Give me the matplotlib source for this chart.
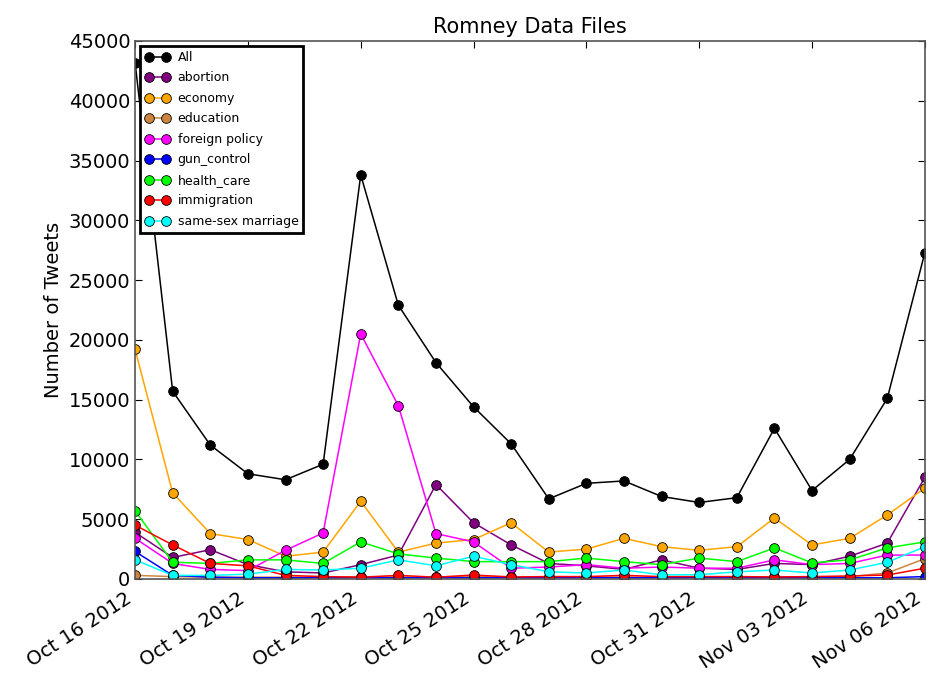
import datetime as dt
import matplotlib
matplotlib.use("Agg")
import matplotlib.pyplot as plt
import matplotlib.dates as mdates

start = dt.date(2012, 10, 16)
dates = [start + dt.timedelta(days=i) for i in range(22)]

all_tweets = [43200, 15700, 11200, 8800, 8300, 9600, 33800, 22900, 18100, 14400, 11300,
              6700, 8000, 8200, 6900, 6400, 6800, 12600, 7400, 10000, 15100, 27300]
abortion = [3900, 1800, 2450, 1200, 600, 500, 1200, 2000, 7900, 4700, 2850,
            1300, 1100, 800, 1600, 900, 800, 1300, 1200, 1900, 3000, 8500]
economy = [19200, 7200, 3800, 3300, 1900, 2250, 6500, 2250, 3000, 3300, 4700,
           2250, 2500, 3400, 2700, 2400, 2700, 5100, 2850, 3400, 5350, 7600]
education = [300, 200, 150, 150, 150, 150, 200, 150, 150, 200, 150,
             150, 150, 150, 150, 150, 150, 200, 150, 200, 500, 1700]
foreign_policy = [3400, 1300, 800, 700, 2400, 3850, 20500, 14500, 3800, 3100, 900,
                  1000, 1200, 900, 1000, 900, 900, 1600, 1200, 1300, 2000, 2000]
gun_control = [2300, 300, 150, 100, 100, 100, 100, 100, 100, 100, 100,
               100, 100, 100, 100, 100, 100, 100, 100, 100, 100, 200]
health_care = [5700, 1400, 1300, 1600, 1600, 1300, 3100, 2100, 1750, 1450, 1450,
               1450, 1750, 1450, 1200, 1750, 1450, 2600, 1350, 1600, 2600, 3100]
immigration = [4500, 2850, 1300, 1100, 300, 200, 150, 300, 150, 330, 170,
               200, 200, 300, 200, 200, 200, 170, 200, 250, 330, 900]
same_sex_marriage = [1600, 300, 300, 400, 800, 750, 900, 1600, 1100, 1900, 1200,
                     600, 500, 750, 350, 350, 600, 750, 500, 750, 1400, 2700]

series = [
    ("All", all_tweets, "black"),
    ("abortion", abortion, "purple"),
    ("economy", economy, "orange"),
    ("education", education, "peru"),
    ("foreign policy", foreign_policy, "magenta"),
    ("gun_control", gun_control, "blue"),
    ("health_care", health_care, "lime"),
    ("immigration", immigration, "red"),
    ("same-sex marriage", same_sex_marriage, "cyan"),
]

fig = plt.figure(figsize=(9.38, 6.73), dpi=100, facecolor="white")
ax = fig.add_axes([0.144, 0.1397, 0.842, 0.7994])

for label, values, color in series:
    ax.plot(dates, values, "-o", color=color, label=label, linewidth=1.1,
            markersize=7, markeredgecolor="black", markeredgewidth=0.6)

ax.set_xlim(dates[0], dates[-1])
ax.set_ylim(0, 45000)
ax.set_yticks(range(0, 45001, 5000))
ax.set_xticks(dates[::3])
ax.xaxis.set_major_formatter(mdates.DateFormatter("%b %d %Y"))

ax.tick_params(direction="in", top=True, right=True, length=5, labelsize=14)
ax.tick_params(axis="x", pad=7)
for lbl in ax.get_xticklabels():
    lbl.set_rotation(33)
    lbl.set_ha("right")

for sp in ax.spines.values():
    sp.set_color("#555555")
    sp.set_linewidth(1.2)

ax.set_title("Romney Data Files", fontsize=15)
ax.set_ylabel("Number of Tweets", fontsize=14)

leg = ax.legend(loc="upper left", numpoints=2, fontsize=9, labelspacing=0.6,
                handlelength=2.0, handletextpad=0.6, borderaxespad=0.4,
                fancybox=False)
leg.get_frame().set_edgecolor("black")
leg.get_frame().set_linewidth(2)
leg.get_frame().set_alpha(1)

fig.savefig("out.png", dpi=100, facecolor="white")
